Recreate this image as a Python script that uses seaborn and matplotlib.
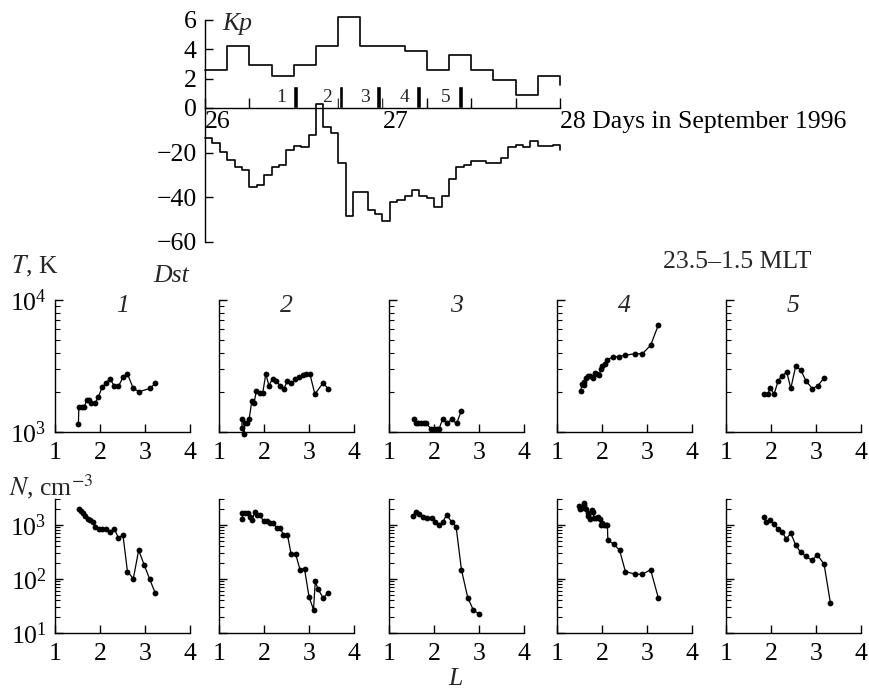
"""
Kp / Dst for 26-28 September 1996 and T, N profiles versus L (23.5-1.5 MLT)
"""

import numpy as np
import pandas as pd
import matplotlib
matplotlib.use("Agg")
import matplotlib.pyplot as plt
import matplotlib.ticker as mticker
import seaborn as sns

sns.set_style("ticks")
plt.rcParams.update({
    "font.family": ["Liberation Serif", "DejaVu Serif"],
    "mathtext.fontset": "stix",
    "axes.linewidth": 1.0,
    "axes.edgecolor": "black",
    "xtick.direction": "in",
    "ytick.direction": "in",
    "xtick.color": "black",
    "ytick.color": "black",
})

W, H = 870, 692
FS = 18.5
BLACK = "black"

# ---------------------------------------------------------------------------
# data
# ---------------------------------------------------------------------------
# Kp, 3-hour values from 00 UT on 26 Sep (last entry = closing step)
kp_hours = [0, 3, 6, 9, 12, 15, 18, 21, 24, 27, 30, 33, 36, 39, 42, 45, 48]
kp_vals = [2.6, 4.2, 2.9, 2.2, 2.9, 4.2, 6.2, 4.2, 4.2, 3.9, 2.6, 3.6, 2.6,
           1.9, 0.9, 2.2, 1.6]

# Dst, hourly values
dst_hours = list(range(49))
dst_vals = [-13.5, -15.7, -19.7, -23.4, -26.4, -27.6, -35.4, -34.5, -29.8, -26.4,
            -25.6, -18.7, -16.9, -17.5, -12.0, 2.0, -8.7, -11.0, -24.6, -48.4,
            -37.5, -37.5, -45.5, -47.4, -50.4, -42.3, -41.3, -39.4, -36.7, -39.4,
            -40.4, -44.5, -39.4, -31.7, -26.6, -25.3, -23.6, -23.6, -24.5, -24.5,
            -22.4, -17.3, -16.5, -17.3, -14.9, -17.0, -17.0, -16.5, -18.7]

# satellite passes
event_ids = ["1", "2", "3", "4", "5"]
event_hours = [12.2, 18.4, 23.5, 28.9, 34.5]
event_height = 1.5

day_labels = ["26", "", "", "", "27", "", "", "", "28 Days in September 1996"]

# temperature profiles
T1_L = [1.52, 1.53, 1.59, 1.65, 1.71, 1.76, 1.81, 1.89, 1.96, 2.05, 2.13, 2.22,
        2.32, 2.41, 2.52, 2.61, 2.74, 2.87, 3.11, 3.23]
T1 = [1150, 1560, 1560, 1560, 1750, 1740, 1650, 1650, 1830, 2200, 2340, 2540,
      2220, 2220, 2630, 2750, 2140, 2020, 2140, 2340]

T2_L = [1.51, 1.51, 1.56, 1.57, 1.62, 1.67, 1.73, 1.78, 1.83, 1.90, 1.97, 2.04,
        2.11, 2.19, 2.27, 2.36, 2.44, 2.52, 2.61, 2.69, 2.78, 2.87, 2.94, 3.02,
        3.13, 3.31, 3.43]
T2 = [1250, 1070, 970, 1160, 1160, 1250, 1730, 1650, 2060, 1960, 1960, 2750,
      2240, 2540, 2450, 2240, 2130, 2420, 2340, 2500, 2600, 2690, 2750, 2750,
      1940, 2340, 2130]

T3_L = [1.55, 1.59, 1.65, 1.71, 1.77, 1.83, 1.94, 2.00, 2.06, 2.11, 2.19, 2.29,
        2.39, 2.50, 2.61]
T3 = [1250, 1160, 1160, 1160, 1160, 1160, 1050, 1050, 1050, 1050, 1250, 1160,
      1250, 1160, 1450]

T4_L = [1.53, 1.55, 1.59, 1.61, 1.65, 1.70, 1.73, 1.79, 1.84, 1.88, 1.94, 1.98,
        2.01, 2.06, 2.11, 2.24, 2.38, 2.51, 2.73, 2.90, 3.08, 3.25]
T4 = [2030, 2320, 2270, 2400, 2580, 2640, 2640, 2550, 2800, 2730, 2700, 3000,
      3180, 3300, 3490, 3720, 3720, 3810, 3920, 3920, 4540, 6430]

T5_L = [1.84, 1.93, 1.98, 2.07, 2.16, 2.24, 2.35, 2.44, 2.55, 2.66, 2.78, 2.92,
        3.04, 3.18]
T5 = [1940, 1940, 2150, 1940, 2450, 2660, 2850, 2140, 3160, 2950, 2430, 2130,
      2240, 2570]

# density profiles
N1_L = [1.53, 1.58, 1.62, 1.67, 1.73, 1.78, 1.84, 1.90, 1.97, 2.05, 2.13, 2.22,
        2.32, 2.41, 2.51, 2.61, 2.74, 2.86, 2.98, 3.10, 3.23]
N1 = [2000, 1830, 1650, 1430, 1300, 1210, 1110, 930, 840, 840, 840, 740,
      840, 570, 650, 137, 101, 340, 183, 101, 54]

N2_L = [1.52, 1.52, 1.58, 1.64, 1.69, 1.74, 1.79, 1.85, 1.91, 1.99, 2.06, 2.13,
        2.21, 2.28, 2.36, 2.43, 2.52, 2.60, 2.70, 2.80, 2.90, 3.00, 3.10, 3.14,
        3.20, 3.31, 3.42]
N2 = [1300, 1650, 1650, 1650, 1390, 1240, 1700, 1520, 1520, 1160, 1160, 1060,
      1060, 870, 870, 660, 660, 294, 294, 148, 154, 47, 27, 90,
      65, 45, 54]

N3_L = [1.54, 1.60, 1.67, 1.76, 1.85, 1.95, 2.02, 2.11, 2.19, 2.28, 2.39, 2.49,
        2.61, 2.75, 2.87, 3.01]
N3 = [1480, 1730, 1590, 1390, 1310, 1310, 1110, 990, 1110, 1520, 1140, 930,
      148, 45, 27, 22]

N4_L = [1.50, 1.52, 1.55, 1.59, 1.61, 1.64, 1.68, 1.70, 1.74, 1.77, 1.80, 1.82,
        1.87, 1.92, 1.96, 1.97, 2.01, 2.04, 2.08, 2.12, 2.13, 2.26, 2.39, 2.52,
        2.74, 2.90, 3.08, 3.25]
N4 = [2270, 1970, 2050, 2370, 2550, 1970, 1430, 1650, 1280, 1910, 1700, 1330,
      1330, 1390, 1280, 990, 1080, 990, 990, 990, 520, 440, 340, 137,
      122, 122, 148, 45]

N5_L = [1.84, 1.90, 1.97, 2.06, 2.15, 2.24, 2.34, 2.44, 2.55, 2.66, 2.78, 2.91,
        3.03, 3.18, 3.32]
N5 = [1390, 1110, 1240, 1040, 840, 750, 550, 700, 420, 310, 260, 220,
      280, 186, 36]

T_L = [T1_L, T2_L, T3_L, T4_L, T5_L]
T_vals = [T1, T2, T3, T4, T5]
N_L = [N1_L, N2_L, N3_L, N4_L, N5_L]
N_vals = [N1, N2, N3, N4, N5]

# ---------------------------------------------------------------------------
# layout helpers (pixel boxes -> figure fractions)
# ---------------------------------------------------------------------------
fig = plt.figure(figsize=(W / 100, H / 100), dpi=100)


def px_axes(left, top, width, height):
    ax = fig.add_axes([left / W, 1 - (top + height) / H, width / W, height / H])
    ax.patch.set_alpha(0)
    return ax


def ftext(x, y, s, **kw):
    kw.setdefault("fontsize", FS)
    return fig.text(x / W, 1 - y / H, s, **kw)


# ---------------------------------------------------------------------------
# Kp panel
# ---------------------------------------------------------------------------
ax_kp = px_axes(205, 20, 355, 88)
kp_df = pd.DataFrame({"hour": kp_hours, "kp": kp_vals})
sns.lineplot(data=kp_df, x="hour", y="kp", ax=ax_kp, estimator=None, sort=False,
             drawstyle="steps-post", color=BLACK, lw=1.2, clip_on=False)
ax_kp.bar(event_hours, event_height, width=0.65, color=BLACK, align="center")
for lab, h in zip(event_ids, event_hours):
    ax_kp.text(h - 1.9, event_height / 2, lab, fontsize=14, ha="center", va="center")

ax_kp.set_xlim(0, 48)
ax_kp.set_ylim(0, 6)
ax_kp.set_xticks(range(0, 49, 6))
ax_kp.set_xticklabels(day_labels, ha="left")
ax_kp.set_yticks([0, 2, 4, 6])
ax_kp.tick_params(axis="x", length=7, width=1, pad=2, labelsize=FS)
ax_kp.tick_params(axis="y", length=5.5, width=1, pad=6, labelsize=FS)
ax_kp.set_xlabel("")
ax_kp.set_ylabel("")
sns.despine(ax=ax_kp)

# ---------------------------------------------------------------------------
# Dst panel
# ---------------------------------------------------------------------------
ax_dst = px_axes(205, 108, 355, 134)
dst_df = pd.DataFrame({"hour": dst_hours, "dst": dst_vals})
sns.lineplot(data=dst_df, x="hour", y="dst", ax=ax_dst, estimator=None, sort=False,
             drawstyle="steps-post", color=BLACK, lw=1.2, clip_on=False)
ax_dst.set_xlim(0, 48)
ax_dst.set_ylim(-60, 0)
ax_dst.set_yticks([-60, -40, -20])
ax_dst.set_xticks([])
ax_dst.tick_params(axis="y", length=5.5, width=1, pad=6, labelsize=FS)
ax_dst.set_xlabel("")
ax_dst.set_ylabel("")
sns.despine(ax=ax_dst, bottom=True)

# ---------------------------------------------------------------------------
# T and N panels
# ---------------------------------------------------------------------------
lefts = [55, 219, 389, 557, 726]


def profile_axes(ax, L, vals, ylim, first):
    sns.lineplot(x=L, y=vals, ax=ax, estimator=None, sort=False, color=BLACK,
                 lw=0.9, marker="o", markersize=4.2, markeredgewidth=0,
                 clip_on=False)
    ax.set_yscale("log")
    ax.set_xlim(1, 4)
    ax.set_ylim(*ylim)
    ax.set_xticks([1, 2, 3, 4])
    ax.yaxis.set_major_locator(mticker.LogLocator(base=10))
    ax.yaxis.set_minor_locator(mticker.LogLocator(base=10, subs=np.arange(2, 10)))
    ax.yaxis.set_minor_formatter(mticker.NullFormatter())
    ax.tick_params(axis="x", length=6, width=1, pad=7, labelsize=FS)
    ax.tick_params(axis="y", which="major", length=5.5, width=1, pad=6,
                   labelsize=FS, labelleft=first)
    ax.tick_params(axis="y", which="minor", length=3.5, width=0.8)
    ax.set_xlabel("")
    ax.set_ylabel("")
    sns.despine(ax=ax)


for i, left in enumerate(lefts):
    ax_t = px_axes(left, 300, 135, 132)
    profile_axes(ax_t, T_L[i], T_vals[i], (1e3, 1e4), i == 0)
    ax_t.text(0.5, 0.955, event_ids[i], transform=ax_t.transAxes, fontsize=FS,
              style="italic", ha="center", va="center")

    ax_n = px_axes(left, 499, 135, 134)
    profile_axes(ax_n, N_L[i], N_vals[i], (10, 3000), i == 0)

# ---------------------------------------------------------------------------
# labels
# ---------------------------------------------------------------------------
ftext(222, 24, "Kp", style="italic", ha="left", va="center")
ftext(171, 276, "Dst", style="italic", ha="center", va="center")
ftext(11, 266, "$T$, K", ha="left", va="center")
ftext(737, 262, "23.5\u20131.5 MLT", ha="center", va="center")
ftext(9, 487, "$N$, cm$^{-3}$", ha="left", va="center")
ftext(455, 679, "L", style="italic", ha="center", va="center")

fig.savefig("out.png", dpi=100)
